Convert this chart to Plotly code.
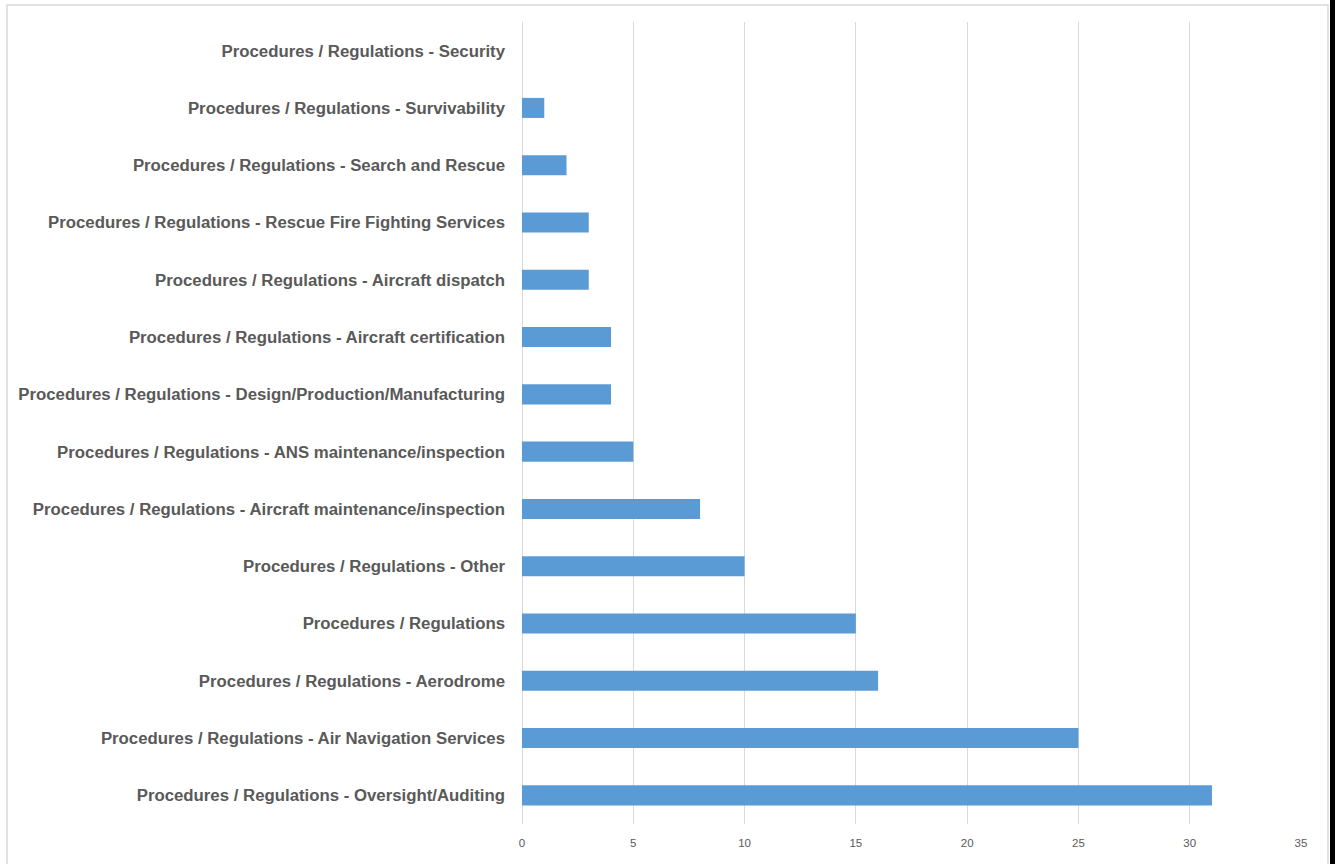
import plotly.graph_objects as go

# Categories listed top to bottom as displayed
categories = [
    "Procedures / Regulations - Security",
    "Procedures / Regulations - Survivability",
    "Procedures / Regulations - Search and Rescue",
    "Procedures / Regulations - Rescue Fire Fighting Services",
    "Procedures / Regulations - Aircraft dispatch",
    "Procedures / Regulations - Aircraft certification",
    "Procedures / Regulations - Design/Production/Manufacturing",
    "Procedures / Regulations - ANS maintenance/inspection",
    "Procedures / Regulations - Aircraft maintenance/inspection",
    "Procedures / Regulations - Other",
    "Procedures / Regulations",
    "Procedures / Regulations - Aerodrome",
    "Procedures / Regulations - Air Navigation Services",
    "Procedures / Regulations - Oversight/Auditing",
]
counts = [0, 1, 2, 3, 3, 4, 4, 5, 8, 10, 15, 16, 25, 31]
x_ticks = [0, 5, 10, 15, 20, 25, 30, 35]

W, H = 1335, 864
L, R, T, B = 522, 34, 22, 40
pw, ph = W - L - R, H - T - B


def px_x(x):
    return (x - L) / pw


def px_y(y):
    return (H - B - y) / ph


fig = go.Figure(
    go.Bar(
        x=counts,
        y=categories,
        orientation="h",
        width=0.35,
        marker=dict(color="#5B9BD5", line=dict(width=0)),
    )
)

fig.update_layout(
    width=W,
    height=H,
    margin=dict(l=L, r=R, t=T, b=B),
    paper_bgcolor="white",
    plot_bgcolor="white",
    showlegend=False,
    xaxis=dict(
        range=[0, 35],
        tickvals=x_ticks,
        showgrid=True,
        gridcolor="#D9D9D9",
        gridwidth=1,
        zeroline=True,
        zerolinecolor="#D9D9D9",
        zerolinewidth=1,
        showline=False,
        ticks="",
        ticklabelstandoff=10,
        tickfont=dict(family="Liberation Sans, Arial, sans-serif", size=11.5, color="#595959"),
    ),
    yaxis=dict(
        categoryorder="array",
        categoryarray=categories[::-1],
        showgrid=False,
        zeroline=False,
        showline=False,
        ticks="",
        ticklabelstandoff=16,
        tickfont=dict(family="Liberation Sans, Arial, sans-serif", size=16.8, color="#595959", weight="bold"),
    ),
    shapes=[
        dict(type="rect", xref="paper", yref="paper",
             x0=px_x(7), x1=px_x(1328), y0=px_y(880), y1=px_y(5),
             line=dict(color="#D9D9D9", width=1.5), fillcolor="rgba(0,0,0,0)", layer="below"),
        dict(type="rect", xref="paper", yref="paper",
             x0=px_x(1330), x1=px_x(1340), y0=px_y(880), y1=px_y(-10),
             line=dict(width=0), fillcolor="black"),
    ],
)

fig.write_html("out.html")
